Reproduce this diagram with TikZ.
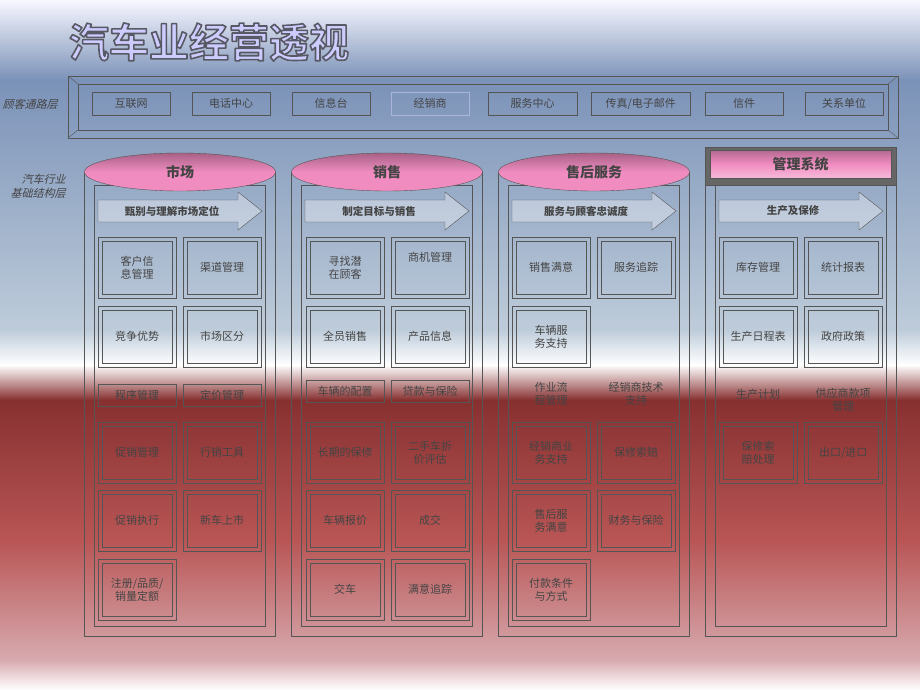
\documentclass[tikz,border=0pt]{standalone}
\usepackage{fontspec}
\setmainfont{Noto Sans CJK SC}
\newfontfamily\slantcjk[FakeSlant=0.25]{Noto Sans CJK SC}
\newfontfamily\titlecjk{Noto Sans CJK SC Bold}
\usetikzlibrary{shapes.geometric,shadows,calc}
\definecolor{ln}{HTML}{555555}
\definecolor{tx}{HTML}{444444}
\definecolor{pk}{HTML}{F08CC0}
\tikzset{
 cellbox/.style={draw=ln,minimum width=78pt,minimum height=61pt,anchor=north west,font=\fontsize{11}{13}\selectfont,text=tx,align=center},
 plainbox/.style={draw=ln,minimum width=78pt,minimum height=22pt,anchor=north west,font=\fontsize{11}{13}\selectfont,text=tx},
 ptext/.style={font=\fontsize{11}{13}\selectfont,text=tx,align=center},
 chan/.style={draw=ln,minimum width=78pt,minimum height=23pt,anchor=north west,font=\fontsize{11}{13}\selectfont,text=tx},
 side/.style={font=\slantcjk\fontsize{11}{14}\selectfont,text=tx,align=right},
 colhead/.style={ellipse,draw=ln,shade,top color=pk!70!black,bottom color=pk,middle color=pk,minimum width=191pt,minimum height=38pt,font=\bfseries\fontsize{14}{16}\selectfont,text=tx},
}
\newcommand{\cell}[4]{%
 \node[cellbox] (#1) at (#2,#3) {#4};
 \draw[ln] ($(#1.north west)+(4,4)$) rectangle ($(#1.south east)+(-4,-4)$);}
\newcommand{\column}[4]{%
 \draw[ln] (#2,172) rectangle ++(191,464);
 \draw[ln] (#2+10,185) rectangle ++(171,441);
 \draw[ln,fill=white,fill opacity=0.35] (#2+14,200) -- ++(140,0) -- ++(0,-8) -- ++(24,19) -- ++(-24,19) -- ++(0,-8) -- ++(-140,0) -- cycle;
 \node[font=\bfseries\fontsize{10.5}{12}\selectfont,text=tx] (#1arr) at (#2+88,211) {#4};}
\begin{document}
\begin{tikzpicture}[x=1pt,y=-1pt]
\useasboundingbox (0,0) rectangle (920,690);
\shade[top color=white!85!blue!20,bottom color={rgb,255:red,123;green,146;blue,184}] (0,0) rectangle (920,80);
\shade[top color={rgb,255:red,123;green,146;blue,184},bottom color={rgb,255:red,190;green,204;blue,218}] (0,80) rectangle (920,330);
\shade[top color={rgb,255:red,190;green,204;blue,218},bottom color=white] (0,330) rectangle (920,365);
\shade[top color=white,bottom color={rgb,255:red,135;green,48;blue,48}] (0,365) rectangle (920,400);
\shade[top color={rgb,255:red,135;green,48;blue,48},bottom color={rgb,255:red,185;green,85;blue,85}] (0,400) rectangle (920,540);
\shade[top color={rgb,255:red,185;green,85;blue,85},bottom color={rgb,255:red,215;green,170;blue,175}] (0,540) rectangle (920,660);
\shade[top color={rgb,255:red,215;green,170;blue,175},bottom color=white] (0,660) rectangle (920,690);
\node[font=\titlecjk\fontsize{40}{44}\selectfont,inner sep=0pt] (title) at (209,42) {\special{pdf:literal direct q 2 Tr 1.6 w 1 j 0.35 0.35 0.4 RG 0.8 0.8 1 rg}汽车业经营透视\special{pdf:literal direct Q}};
\draw[ln] (68,76) rectangle (898,138);
\draw[ln] (78,84) rectangle (888,130);
\draw[ln] (68,76)--(78,84) (898,76)--(888,84) (68,138)--(78,130) (898,138)--(888,130);
\node[side,anchor=center] (l1) at (30,104) {顾客通路层};
\node[chan] (c1) at (92,92) {互联网};
\node[chan] (c2) at (192,92) {电话中心};
\node[chan] (c3) at (292,92) {信息台};
\node[chan,draw={rgb,255:red,170;green,180;blue,225}] (c4) at (391,92) {经销商};
\node[chan,minimum width=89pt] (c5) at (488,92) {服务中心};
\node[chan,minimum width=99pt] (c6) at (591,92) {传真/电子邮件};
\node[chan] (c7) at (705,92) {信件};
\node[chan] (c8) at (805,92) {关系单位};
\node[side] (l2) at (38,186) {汽车行业\\基础结构层};
\column{m}{84}{市场}{甄别与理解市场定位}
\column{s}{291}{销售}{制定目标与销售}
\column{a}{498}{售后服务}{服务与顾客忠诚度}
\column{g}{705}{管理系统}{生产及保修}
\node[colhead] (mh) at (180,172) {市场};
\node[colhead] (sh) at (387,172) {销售};
\node[colhead] (ah) at (594,172) {售后服务};
\node[draw=ln,fill=black!60,minimum width=191pt,minimum height=38pt,anchor=north west] (gh0) at (705,147) {};
\node[draw=ln,shade,top color=pk!75!black,bottom color=pk!60!white,middle color=pk,minimum width=181pt,minimum height=28pt,font=\bfseries\fontsize{14}{16}\selectfont,text=tx] (gh) at (800.5,164) {管理系统};
\cell{m1}{98}{237}{客户信\\息管理}\cell{m2}{183}{237}{渠道管理}
\cell{m3}{98}{306}{竞争优势}\cell{m4}{183}{306}{市场区分}
\node[plainbox] (m5) at (98,384) {程序管理};\node[plainbox] (m6) at (183,384) {定价管理};
\cell{m7}{98}{422}{促销管理}\cell{m8}{183}{422}{行销工具}
\cell{m9}{98}{490}{促销执行}\cell{m10}{183}{490}{新车上市}
\cell{m11}{98}{559}{注册/品质/\\销量定额}
\cell{s1}{306}{237}{寻找潜\\在顾客}\cell{s2}{391}{237}{商机管理\\[8pt]}
\cell{s3}{306}{306}{全员销售}\cell{s4}{391}{306}{产品信息}
\node[plainbox] (s5) at (306,380) {车辆的配置};\node[plainbox] (s6) at (391,380) {贷款与保险};
\cell{s7}{306}{422}{长期的保修}\cell{s8}{391}{422}{二手车折\\价评估}
\cell{s9}{306}{490}{车辆报价}\cell{s10}{391}{490}{成交}
\cell{s11}{306}{559}{交车}\cell{s12}{391}{559}{满意追踪}
\cell{a1}{512}{237}{销售满意}\cell{a2}{597}{237}{服务追踪}
\cell{a3}{512}{306}{车辆服\\务支持}
\node[ptext] (a5) at (551,394) {作业流\\程管理};\node[ptext] (a6) at (636,394) {经销商技术\\支持};
\cell{a7}{512}{422}{经销商业\\务支持}\cell{a8}{597}{422}{保修索赔}
\cell{a9}{512}{490}{售后服\\务满意}\cell{a10}{597}{490}{财务与保险}
\cell{a11}{512}{559}{付款条件\\与方式}
\cell{g1}{719}{237}{库存管理}\cell{g2}{804}{237}{统计报表}
\cell{g3}{719}{306}{生产日程表}\cell{g4}{804}{306}{政府政策}
\node[ptext] (g5) at (758,394) {生产计划};\node[ptext] (g6) at (843,400) {供应商款项\\管理};
\cell{g7}{719}{422}{保修索\\赔处理}\cell{g8}{804}{422}{出口/进口}
\end{tikzpicture}
\end{document}
